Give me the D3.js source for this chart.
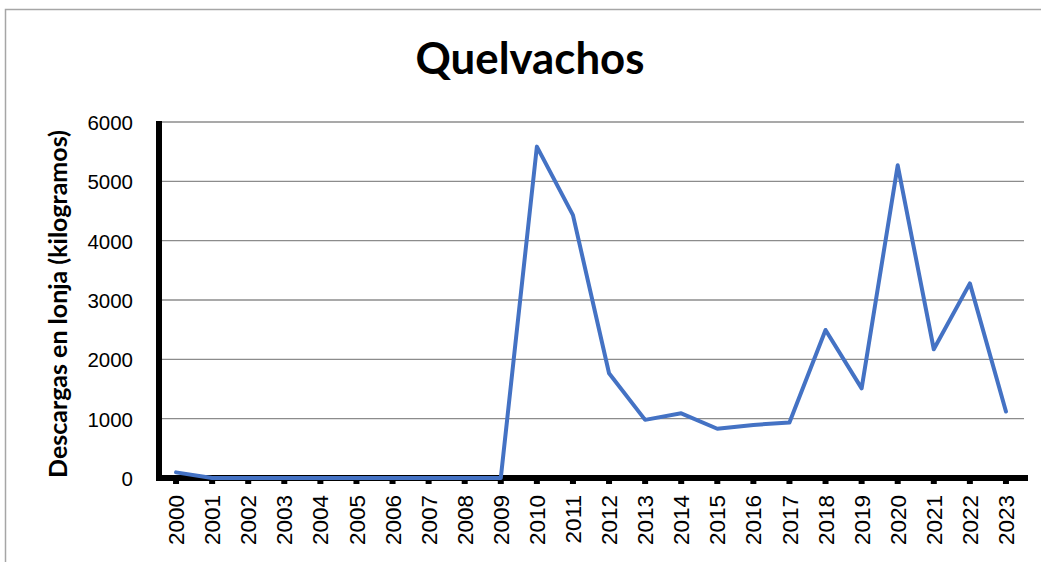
<!DOCTYPE html>
<html>
<head>
<meta charset="utf-8">
<script src="https://cdn.jsdelivr.net/npm/d3@7"></script>
<style>
  html, body { margin: 0; padding: 0; background: #fff; }
  svg { display: block; }
</style>
</head>
<body>
<svg id="chart" width="1041" height="562"></svg>
<script>
const chartTitle = "Quelvachos";
const yAxisTitle = "Descargas en lonja (kilogramos)";
const years = ["2000","2001","2002","2003","2004","2005","2006","2007","2008","2009","2010","2011","2012","2013","2014","2015","2016","2017","2018","2019","2020","2021","2022","2023"];
const landings = [95, 0, 0, 0, 0, 0, 0, 0, 0, 0, 5585, 4430, 1765, 980, 1090, 830, 895, 935, 2495, 1510, 5270, 2170, 3280, 1120];
const yTicks = [0, 1000, 2000, 3000, 4000, 5000, 6000];

const svg = d3.select("#chart");
const W = 1041, H = 562;
const margin = { left: 159, right: 1024, top: 122, bottom: 478 };

// frame
svg.append("path")
  .attr("d", `M5.5,${H} L5.5,9.5 L${W},9.5`)
  .attr("fill", "none").attr("stroke", "#a6a6a6").attr("stroke-width", 1.5);

const x = d3.scaleBand().domain(years).range([margin.left - 1, margin.right]).paddingInner(0).paddingOuter(0);
const y = d3.scaleLinear().domain([0, 6000]).range([margin.bottom, margin.top]);

// gridlines
svg.append("g").selectAll("line").data(yTicks.filter(d => d > 0)).join("line")
  .attr("x1", margin.left).attr("x2", margin.right)
  .attr("y1", d => y(d)).attr("y2", d => y(d))
  .attr("stroke", "#8c8c8c").attr("stroke-width", 1.3);

// y axis
const yAxis = svg.append("g").attr("transform", `translate(${margin.left},0)`)
  .call(d3.axisLeft(y).tickValues(yTicks).tickSize(0).tickPadding(26).tickFormat(d3.format("d")));
yAxis.select(".domain").remove();
yAxis.selectAll("text").attr("font-family", "Liberation Sans, Arial, sans-serif").attr("font-size", 20.5).attr("fill", "#000")
  .attr("dy", "0.36em");
svg.append("line").attr("x1", margin.left).attr("x2", margin.left)
  .attr("y1", margin.top - 1).attr("y2", margin.bottom + 3)
  .attr("stroke", "#000").attr("stroke-width", 6);

// x axis
const xAxis = svg.append("g").attr("transform", `translate(0,${margin.bottom})`)
  .call(d3.axisBottom(x).tickSize(0).tickPadding(0));
xAxis.select(".domain").remove();
xAxis.selectAll(".tick").append("rect")
  .attr("x", -3).attr("y", 0).attr("width", 6).attr("height", 6).attr("fill", "#000");
xAxis.selectAll("text")
  .attr("font-family", "Liberation Sans, Arial, sans-serif").attr("font-size", 22.5).attr("fill", "#000")
  .attr("text-anchor", "end")
  .attr("transform", "translate(0,17) rotate(-90)")
  .attr("x", 0).attr("y", 0).attr("dy", "0.36em");
svg.append("line").attr("x1", margin.left - 3).attr("x2", margin.right + 4)
  .attr("y1", margin.bottom).attr("y2", margin.bottom)
  .attr("stroke", "#000").attr("stroke-width", 6);

// line
const line = d3.line().x((d, i) => x(years[i]) + x.bandwidth() / 2).y(d => y(d));
svg.append("path").datum(landings)
  .attr("d", line)
  .attr("fill", "none").attr("stroke", "#4472c4").attr("stroke-width", 4)
  .attr("stroke-linejoin", "round").attr("stroke-linecap", "round");

// title
const t = svg.append("text").text(chartTitle)
  .attr("x", 530).attr("y", 74).attr("text-anchor", "middle")
  .attr("font-family", "Lato, 'Open Sans', sans-serif").attr("font-weight", "bold").attr("font-size", 40).attr("fill", "#000");
const tw = t.node().getComputedTextLength();
t.attr("font-size", 40 * 229 / tw);

// y title
const yt = svg.append("text").text(yAxisTitle)
  .attr("transform", `translate(67,304) rotate(-90)`)
  .attr("text-anchor", "middle")
  .attr("font-family", "Lato, 'Open Sans', sans-serif").attr("font-weight", "bold").attr("font-size", 20).attr("fill", "#000");
const yw = yt.node().getComputedTextLength();
yt.attr("font-size", 20 * 348 / yw);
</script>
</body>
</html>
